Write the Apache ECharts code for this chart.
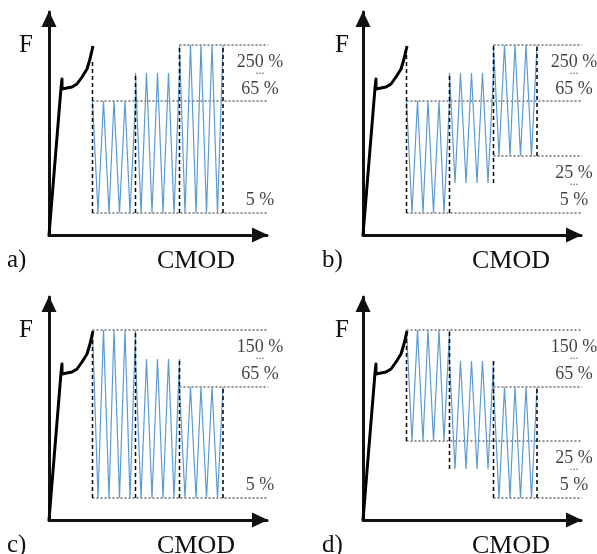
<!DOCTYPE html>
<html lang="en">
<head>
<meta charset="UTF-8">
<title>CMOD cycles</title>
<script src="https://cdn.jsdelivr.net/npm/echarts@6/dist/echarts.min.js"></script>
<style>
  html, body { margin: 0; padding: 0; background: #fff; }
  #chart { width: 597px; height: 554px; }
</style>
</head>
<body>
<div id="chart"></div>
<script>
// F-CMOD curve up to the start of cycling (same in all panels)
var curveX = [0, 12, 13, 13, 18, 23, 28, 33, 38, 41, 44];
var curveY = [0, 147, 156, 146, 147, 148, 151, 158, 166, 176, 189];
// turning points of the cycling, 3 blocks of 4 cycles
var turnX = [43.5, 49, 54.5, 60, 65, 70.5, 76, 81, 86.5,
             92, 97.5, 103, 108.5, 114, 119.5, 125, 130.5,
             136, 141.5, 147, 152, 157.5, 163, 168.5, 174];
var panelNames = ['a)', 'b)', 'c)', 'd)'];
// upper / lower load level of each block, per panel
var blockTop = [[134, 162, 190], [134, 162, 190], [190, 161, 133], [190, 159, 133]];
var blockLow = [[22, 22, 22], [22, 52, 79], [22, 22, 22], [79, 51, 22]];
var firstDashTop = [174, 183, 190, 190];
// dotted level lines: [level, start]
var refA = [[190, 130.5], [134, 43.5], [22, 43.5]];
var refB = [[190, 130.5], [134, 43.5], [79, 130.5], [22, 43.5]];
var refC = [[190, 43.5], [133, 130.5], [22, 43.5]];
var refD = [[190, 43.5], [133, 130.5], [79, 43.5], [22, 130.5]];
var refEnd = 223;
// level labels
var labelsA = ['250 %', '...', '65 %', '5 %'];
var labelsB = ['250 %', '...', '65 %', '25 %', '...', '5 %'];
var labelsC = ['150 %', '...', '65 %', '5 %'];
var labelsD = ['150 %', '...', '65 %', '25 %', '...', '5 %'];
var labelYShort = [173, 164, 146, 35];
var labelYLong = [173, 164, 146, 62, 53, 35];
var labelX = 211;

var refs = [refA, refB, refC, refD];
var labels = [labelsA, labelsB, labelsC, labelsD];

var SERIF = 'Liberation Serif';
var chart = echarts.init(document.getElementById('chart'));

var gridPos = [
  { left: 49, top: 12 }, { left: 363, top: 12 },
  { left: 49, top: 297 }, { left: 363, top: 297 }
];

var grids = [], xAxes = [], yAxes = [], series = [], titles = [];

function axisLine() {
  return {
    show: true,
    symbol: ['none', 'triangle'],
    symbolSize: [15, 16],
    symbolOffset: [0, -7],
    lineStyle: { color: '#111', width: 3 }
  };
}

for (var p = 0; p < 4; p++) {
  grids.push({ left: gridPos[p].left, top: gridPos[p].top, width: 218, height: 223 });
  xAxes.push({
    type: 'value', gridIndex: p, min: 0, max: 218,
    axisLine: axisLine(), axisTick: { show: false },
    axisLabel: { show: false }, splitLine: { show: false }
  });
  yAxes.push({
    type: 'value', gridIndex: p, min: 0, max: 223,
    axisLine: axisLine(), axisTick: { show: false },
    axisLabel: { show: false }, splitLine: { show: false }
  });

  // black curve
  var curve = [];
  for (var i = 0; i < curveX.length; i++) curve.push([curveX[i], curveY[i]]);
  series.push({
    type: 'line', xAxisIndex: p, yAxisIndex: p, data: curve,
    symbol: 'none', z: 5, clip: false,
    lineStyle: { color: '#000', width: 3, join: 'round' }
  });

  // cycling
  var zz = [];
  for (var b = 0; b < 3; b++) {
    for (var k = 0; k <= 8; k++) {
      zz.push([turnX[b * 8 + k], k % 2 === 0 ? blockTop[p][b] : blockLow[p][b]]);
    }
  }
  series.push({
    type: 'line', xAxisIndex: p, yAxisIndex: p, data: zz,
    symbol: 'none', z: 3, clip: false,
    lineStyle: { color: '#5b9bd5', width: 1.2 }
  });

  // dotted level lines
  var dots = [];
  refs[p].forEach(function (r) {
    dots.push([r[1], r[0]], [refEnd, r[0]], [refEnd, '-']);
  });
  series.push({
    type: 'line', xAxisIndex: p, yAxisIndex: p, data: dots,
    symbol: 'none', z: 2, clip: false, connectNulls: false,
    lineStyle: { color: '#222', width: 1, type: [2, 2] }
  });

  // dashed block borders
  var t = blockTop[p], l = blockLow[p];
  var spans = [
    [l[0], firstDashTop[p]],
    [Math.min(l[0], l[1]), Math.max(t[0], t[1])],
    [Math.min(l[1], l[2]), Math.max(t[1], t[2])],
    [l[2], t[2]]
  ];
  var dash = [];
  for (var j = 0; j < 4; j++) {
    var x = turnX[j * 8];
    dash.push([x, spans[j][0]], [x, spans[j][1]], [x, '-']);
  }
  series.push({
    type: 'line', xAxisIndex: p, yAxisIndex: p, data: dash,
    symbol: 'none', z: 4, clip: false, connectNulls: false,
    lineStyle: { color: '#000', width: 1.5, type: [4, 3] }
  });

  // level labels
  var ly = labels[p].length === 4 ? labelYShort : labelYLong;
  var lab = [];
  labels[p].forEach(function (s, n) {
    var small = s === '...';
    lab.push({
      value: [labelX, ly[n]], name: s,
      label: small ? { fontSize: 12, color: '#333' } : undefined
    });
  });
  series.push({
    type: 'scatter', xAxisIndex: p, yAxisIndex: p, data: lab,
    symbolSize: 0, clip: false, silent: true,
    label: {
      show: true, position: 'inside',
      formatter: function (prm) { return prm.name; },
      fontFamily: SERIF, color: '#111',
      fontSize: 18
    }
  });
}

// F / CMOD / panel letters
var txt = { fontFamily: SERIF, fontSize: 25, fontWeight: 'normal', color: '#111' };
var bigTxt = { fontFamily: SERIF, fontSize: 26, fontWeight: 'normal', color: '#111' };
var fPos = [[19, 33], [335, 33], [19, 318], [335, 318]];
var cmodPos = [[157, 248], [472, 248], [157, 533], [472, 533]];
var namePos = [[7, 248], [322, 248], [7, 533], [322, 533]];
for (var q = 0; q < 4; q++) {
  titles.push({ text: 'F', left: fPos[q][0], top: fPos[q][1], padding: 0, textStyle: txt });
  titles.push({ text: 'CMOD', left: cmodPos[q][0], top: cmodPos[q][1], padding: 0, textStyle: bigTxt });
  titles.push({ text: panelNames[q], left: namePos[q][0], top: namePos[q][1], padding: 0, textStyle: txt });
}

chart.setOption({
  animation: false,
  backgroundColor: '#fff',
  title: titles,
  grid: grids,
  xAxis: xAxes,
  yAxis: yAxes,
  series: series
});
</script>
</body>
</html>
